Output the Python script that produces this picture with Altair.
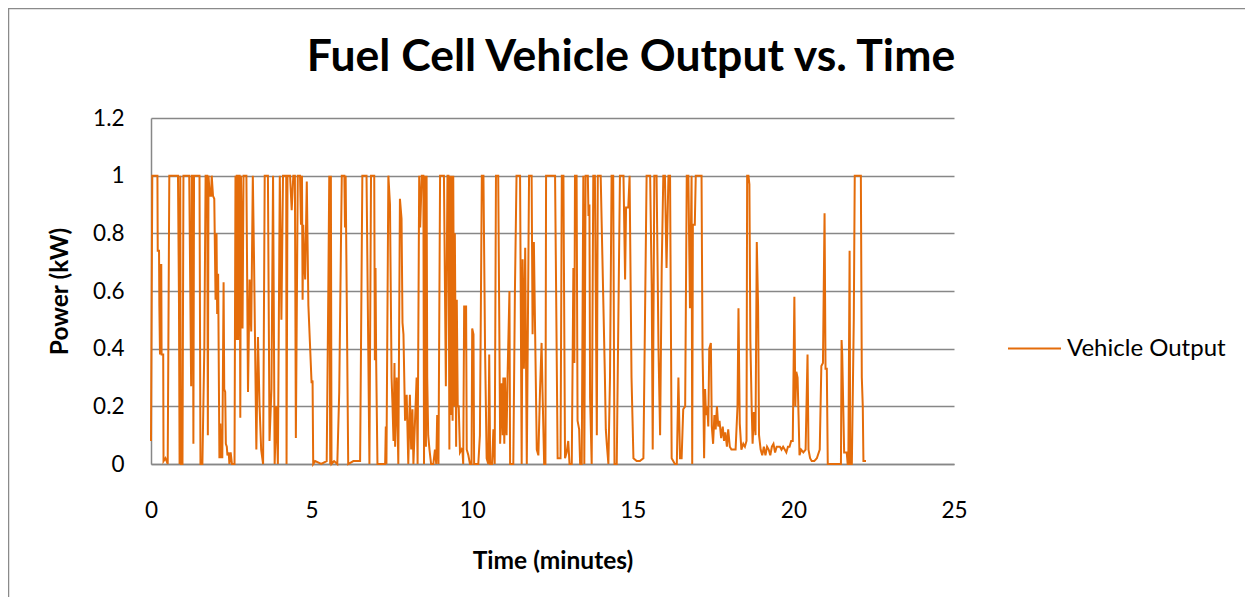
import altair as alt
import pandas as pd

# ---- data (time in minutes, power in kW) ----
time_a = [0.00, 0.04, 0.20, 0.21, 0.25, 0.26, 0.28, 0.30, 0.32, 0.33, 0.38, 0.39, 0.45, 0.52, 0.57, 0.84, 0.87, 0.89,
          0.91, 0.93, 0.98, 1.01, 1.19, 1.25, 1.27, 1.30, 1.32, 1.34, 1.51, 1.54, 1.60, 1.66, 1.70, 1.75, 1.77, 1.79,
          1.83, 1.87, 1.89, 1.93, 1.97, 2.01, 2.04, 2.06, 2.09, 2.13, 2.16, 2.18, 2.20, 2.22, 2.26, 2.28, 2.31, 2.33,
          2.36, 2.38, 2.42, 2.44, 2.48, 2.52, 2.60, 2.63, 2.65, 2.67, 2.69, 2.71, 2.73, 2.76, 2.78, 2.80, 2.83, 2.85,
          2.88, 2.97, 3.02, 3.07, 3.12, 3.17, 3.21, 3.28, 3.33, 3.38, 3.43, 3.49, 3.54, 3.64, 3.69, 3.75, 3.80, 3.85,
          3.90, 3.95, 4.01, 4.06, 4.11, 4.21]
power_a = [0.08, 1.0, 1.0, 0.74, 0.74, 0.55, 0.38, 0.69, 0.69, 0.38, 0.38, 0.01, 0.02, 0.0, 1.0, 1.0, 0.58, 0.0,
           1.0, 0.0, 0.0, 1.0, 1.0, 0.27, 1.0, 1.0, 0.07, 1.0, 1.0, 0.0, 0.0, 0.4, 1.0, 1.0, 0.1, 1.0,
           0.93, 0.93, 1.0, 0.93, 0.92, 0.57, 0.8, 0.52, 0.66, 0.02, 0.14, 0.02, 0.08, 0.02, 0.63, 0.26, 0.25, 0.07,
           0.06, 0.03, 0.04, 0.0, 0.04, 0.0, 0.0, 1.0, 0.43, 1.0, 1.0, 0.43, 1.0, 1.0, 0.16, 1.0, 0.78, 0.47,
           1.0, 1.0, 0.25, 0.64, 0.46, 1.0, 0.69, 0.05, 0.44, 0.20, 0.05, 0.0, 1.0, 1.0, 0.08, 0.26, 1.0, 0.0,
           0.2, 0.0, 1.0, 0.5, 1.0, 1.0]

time_b = [4.22, 4.25, 4.33, 4.38, 4.43, 4.48, 4.51, 4.57, 4.64, 4.67, 4.70, 4.72, 4.74, 4.77, 4.80, 4.85, 4.90, 5.00,
          5.03, 5.05, 5.11, 5.30, 5.47, 5.52, 5.55, 5.58, 5.60, 5.62, 5.70, 5.80, 5.86, 5.92, 5.94, 6.02, 6.04, 6.06,
          6.14, 6.30, 6.51, 6.58, 6.71, 6.80, 6.85, 6.95, 6.97, 6.99, 7.01, 7.05, 7.29, 7.31, 7.33, 7.39, 7.44, 7.49,
          7.52, 7.55, 7.58, 7.60, 7.65, 7.70, 7.75, 7.80, 7.83, 7.86, 7.91, 7.96, 8.01, 8.06, 8.10, 8.14, 8.17, 8.22,
          8.27, 8.30, 8.35, 8.38, 8.43, 8.48]
power_b = [0.0, 1.0, 1.0, 0.88, 1.0, 1.0, 0.09, 1.0, 1.0, 0.83, 1.0, 0.57, 0.83, 0.70, 0.64, 0.98, 0.55, 0.28,
           0.29, 0.0, 0.01, 0.0, 0.01, 0.6, 1.0, 0.0, 1.0, 0.0, 0.01, 0.0, 0.25, 0.82, 1.0, 1.0, 0.82, 1.0,
           0.0, 0.01, 0.01, 1.0, 1.0, 0.0, 1.0, 1.0, 0.36, 0.68, 0.36, 0.0, 0.0, 0.13, 0.0, 1.0, 0.9, 0.3,
           0.2, 0.08, 0.35, 0.06, 0.3, 0.0, 0.92, 0.85, 0.49, 0.45, 0.15, 0.24, 0.0, 0.24, 0.05, 0.19, 0.0, 0.15,
           0.3, 0.0, 1.0, 0.82, 1.0, 1.0]

time_c = [8.50, 8.52, 8.54, 8.56, 8.58, 8.60, 8.63, 8.67, 8.72, 8.79, 8.84, 8.88, 8.91, 8.95, 9.00, 9.12, 9.18, 9.23,
          9.26, 9.29, 9.31, 9.34, 9.36, 9.39, 9.41, 9.44, 9.46, 9.50, 9.52, 9.55, 9.58, 9.62, 9.67, 9.70, 9.72, 9.75,
          9.78, 9.81, 9.83, 9.88, 9.93, 9.98, 10.00, 10.04, 10.06, 10.12, 10.19, 10.24, 10.30, 10.35, 10.40, 10.45,
          10.50, 10.53, 10.56, 10.62, 10.66, 10.70, 10.74, 10.81, 10.87, 10.92, 10.95, 10.97, 11.00, 11.02, 11.05,
          11.07, 11.10, 11.16, 11.18, 11.28, 11.33, 11.38, 11.49, 11.54, 11.57, 11.61, 11.65, 11.70, 11.77, 11.85,
          11.88, 11.92, 11.96, 12.01, 12.06, 12.11, 12.16, 12.19, 12.24, 12.28, 12.30, 12.58]
power_c = [0.0, 1.0, 0.82, 0.06, 1.0, 0.3, 0.1, 0.05, 0.0, 0.0, 0.05, 0.0, 0.17, 0.0, 1.0, 1.0, 0.27, 1.0,
           1.0, 0.05, 1.0, 0.17, 1.0, 0.15, 1.0, 0.2, 0.8, 0.06, 0.57, 0.2, 0.2, 0.04, 0.05, 0.04, 0.0, 0.55,
           0.4, 0.55, 0.05, 0.03, 0.0, 0.0, 0.47, 0.45, 0.0, 0.0, 0.0, 0.1, 1.0, 1.0, 0.4, 0.02,
           0.0, 0.38, 0.0, 0.0, 0.12, 0.0, 1.0, 1.0, 0.07, 0.28, 0.1, 0.3, 0.07, 0.3, 0.14,
           0.1, 0.3, 0.6, 0.0, 0.0, 0.6, 1.0, 1.0, 0.0, 0.71, 0.33, 0.75, 0.0, 1.0, 1.0,
           0.45, 0.77, 0.45, 0.05, 0.03, 0.25, 0.42, 0.25, 0.0, 0.0, 1.0, 1.0]

time_d = [12.66, 12.75, 12.79, 12.84, 12.89, 12.94, 12.99, 13.03, 13.10, 13.15, 13.18, 13.20, 13.25, 13.28, 13.33,
          13.36, 13.41, 13.46, 13.49, 13.53, 13.60, 13.62, 13.65, 13.67, 13.72, 13.77, 13.82, 13.88, 13.91, 14.00,
          14.13, 14.16, 14.19, 14.24, 14.29, 14.34, 14.39, 14.43, 14.50, 14.60, 14.71, 14.76, 14.79, 14.86, 14.90,
          14.96, 15.02, 15.12, 15.22, 15.33, 15.43, 15.54, 15.59, 15.62, 15.67, 15.74, 15.80, 15.85, 15.90, 15.95,
          16.00, 16.05, 16.11, 16.16, 16.21, 16.31, 16.37, 16.42, 16.47, 16.52, 16.57, 16.63, 16.68, 16.73, 16.78,
          16.83]
power_d = [0.02, 0.02, 1.0, 1.0, 0.02, 0.04, 0.08, 0.0, 0.0, 0.68, 0.35, 1.0, 1.0, 0.15, 0.12,
           0.0, 0.0, 1.0, 0.0, 1.0, 1.0, 0.86, 0.9, 0.23, 0.0, 1.0, 1.0, 0.1, 1.0, 1.0,
           0.31, 0.12, 0.07, 0.0, 0.3, 1.0, 1.0, 0.0, 0.0, 1.0, 1.0, 0.64, 0.89, 0.89, 1.0,
           0.3, 0.02, 0.01, 0.01, 0.02, 1.0, 1.0, 0.6, 0.05, 1.0, 1.0, 0.4, 0.1, 0.68, 1.0,
           1.0, 0.68, 1.0, 1.0, 0.02, 0.0, 0.0, 0.3, 0.02, 0.02, 0.19, 0.2, 1.0, 1.0, 0.54,
           1.0]

time_e = [16.85, 16.87, 16.93, 16.96, 17.14, 17.17, 17.20, 17.22, 17.25, 17.28, 17.32, 17.35, 17.38, 17.43, 17.46,
          17.50, 17.54, 17.58, 17.62, 17.66, 17.70, 17.75, 17.80, 17.84, 17.88, 17.93, 17.97, 18.02, 18.07, 18.13,
          18.20, 18.26, 18.29, 18.33, 18.38, 18.44, 18.49, 18.54, 18.56, 18.60, 18.63, 18.66, 18.70, 18.73, 18.77,
          18.82, 18.86, 18.90, 18.93, 18.98, 19.03, 19.08, 19.13, 19.18, 19.23, 19.28, 19.33, 19.38, 19.43, 19.48,
          19.53, 19.58, 19.63, 19.68, 19.73, 19.78, 19.83, 19.88, 19.93, 19.98, 20.03, 20.06, 20.09, 20.13, 20.16,
          20.19, 20.24, 20.31, 20.38, 20.44, 20.47, 20.52, 20.57, 20.65, 20.73, 20.82, 20.87, 20.92, 20.97, 21.00,
          21.04]
power_e = [0.0, 0.83, 0.83, 1.0, 1.0, 0.4, 0.2, 0.02, 0.26, 0.17, 0.2, 0.13, 0.4, 0.42, 0.13,
           0.07, 0.17, 0.12, 0.2, 0.13, 0.15, 0.09, 0.13, 0.08, 0.11, 0.06, 0.12, 0.06, 0.05, 0.05,
           0.05, 0.2, 0.54, 0.14, 0.05, 0.07, 0.06, 0.08, 1.0, 1.0, 0.97, 0.43, 0.2, 0.07, 0.18,
           0.1, 0.77, 0.55, 0.1, 0.05, 0.03, 0.06, 0.03, 0.06, 0.05, 0.03, 0.06, 0.07, 0.04, 0.06,
           0.06, 0.06, 0.05, 0.06, 0.05, 0.04, 0.06, 0.06, 0.08, 0.08, 0.58, 0.2, 0.32, 0.3, 0.17,
           0.03, 0.05, 0.04, 0.05, 0.38, 0.05, 0.02, 0.01, 0.01, 0.02, 0.05, 0.34, 0.35, 0.87, 0.33,
           0.33]

time_f = [21.07, 21.48, 21.50, 21.52, 21.58, 21.66, 21.69, 21.71, 21.75, 21.77, 21.82, 21.88, 21.91, 22.10, 22.13,
          22.16, 22.18, 22.26]
power_f = [0.0, 0.0, 0.43, 0.38, 0.04, 0.04, 0.0, 0.0, 0.74, 0.0, 0.0, 0.5, 1.0, 1.0, 0.3,
           0.2, 0.01, 0.01]

x_ticks = [0, 5, 10, 15, 20, 25]
y_ticks = [0, 0.2, 0.4, 0.6, 0.8, 1.0, 1.2]
series_name = "Vehicle Output"
chart_title = "Fuel Cell Vehicle Output vs. Time"

times = time_a + time_b + time_c + time_d + time_e + time_f
powers = power_a + power_b + power_c + power_d + power_e + power_f
df = pd.DataFrame({"t": times, "p": powers, "s": [series_name] * len(times)})

FONT = "Lato"
GRID = "#878787"
ORANGE = "#E46C0A"

W, H = 803, 346

line = alt.Chart(df).mark_line(strokeWidth=2).encode(
    x=alt.X("t:Q",
            scale=alt.Scale(domain=[0, 25], nice=False, zero=True),
            axis=alt.Axis(values=x_ticks, title="Time (minutes)", grid=False, ticks=False,
                          labelFlush=False, labelPadding=35, titleX=W / 2, titleY=97,
                          titleBaseline="middle", titleAlign="center")),
    y=alt.Y("p:Q",
            scale=alt.Scale(domain=[0, 1.2], nice=False),
            axis=alt.Axis(values=y_ticks, title="Power (kW)", grid=True, ticks=False,
                          labelPadding=27, format="~g", titleX=-91, titleY=H / 2,
                          titleAngle=270, titleBaseline="middle", titleAlign="center")),
    color=alt.Color("s:N", scale=alt.Scale(domain=[series_name], range=[ORANGE]),
                    legend=alt.Legend(title=None, orient="none", legendX=856, legendY=203,
                                      symbolType="stroke", symbolSize=2809, symbolStrokeWidth=2,
                                      labelFontSize=24, labelFont=FONT, labelColor="#000000",
                                      labelOffset=5, padding=0)),
    order=alt.Order("t:Q"),
)

frame_df = pd.DataFrame({"k": [0]})
title_df = pd.DataFrame({"label": [chart_title]})

title_text = alt.Chart(title_df).mark_text(
    font=FONT, fontSize=44.5, fontWeight="bold", color="#000000", align="center", baseline="alphabetic"
).encode(text="label:N", x=alt.value(480), y=alt.value(-47))

left_border = alt.Chart(frame_df).mark_rule(color="#8a8a8a", strokeWidth=1.3).encode(
    x=alt.value(-142.4), y=alt.value(-110), y2=alt.value(479))
top_border = alt.Chart(frame_df).mark_rule(color="#8a8a8a", strokeWidth=1.3).encode(
    y=alt.value(-109.4), x=alt.value(-143), x2=alt.value(1094))

chart = alt.layer(line, title_text, left_border, top_border).properties(
    width=W, height=H,
    padding={"left": 143, "top": 110, "right": 291, "bottom": 133},
    autosize=alt.AutoSizeParams(type="none"),
).configure_view(stroke=None).configure_axis(
    labelFont=FONT, labelFontSize=22.5, labelColor="#000000",
    titleFont=FONT, titleFontSize=24.5, titleFontWeight="bold", titleColor="#000000",
    gridColor=GRID, gridWidth=1.5, domainColor=GRID, domainWidth=1.5,
)

chart.save("out.html", embed_options={"renderer": "svg", "actions": False})
